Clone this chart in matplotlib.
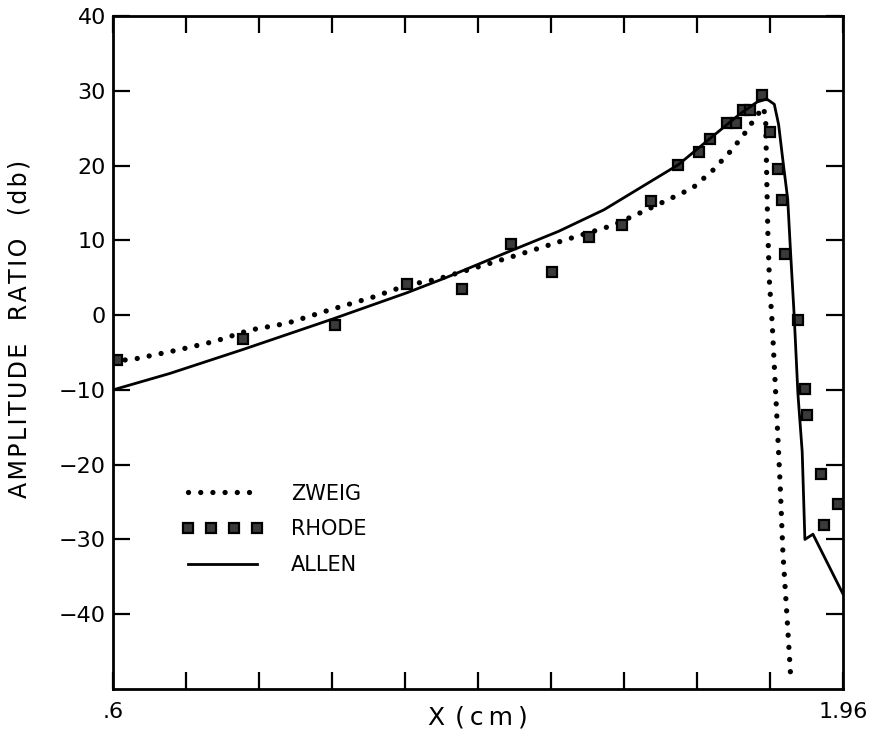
import matplotlib
matplotlib.use("Agg")
import matplotlib.pyplot as plt

# ---------------- data ----------------
zweig_x = [0.600, 0.645, 0.725, 0.790, 0.855, 0.924, 1.004, 1.084, 1.148, 1.204,
           1.278, 1.352, 1.440, 1.531, 1.595, 1.680, 1.718, 1.749, 1.774, 1.792,
           1.805, 1.812, 1.816, 1.818, 1.820, 1.823, 1.828, 1.837, 1.843, 1.848,
           1.856, 1.863]
zweig_y = [-6.2, -5.8, -4.6, -3.5, -2.0, -1.1, 0.7, 2.4, 4.0, 4.8,
           6.4, 8.0, 10.0, 12.0, 14.1, 17.0, 19.4, 21.8, 24.0, 25.9,
           27.2, 27.8, 26.0, 18.0, 11.0, 4.4, -1.0, -13.9, -22.8, -31.7,
           -40.7, -48.9]

rhode_x = [0.607, 0.842, 1.014, 1.148, 1.250, 1.341, 1.418, 1.487, 1.548, 1.602,
           1.653, 1.692, 1.712, 1.744, 1.761, 1.774, 1.787, 1.809, 1.824, 1.839,
           1.846, 1.852, 1.876, 1.889, 1.893, 1.919, 1.951, 1.925]
rhode_y = [-6.0, -3.2, -1.3, 4.1, 3.5, 9.5, 5.8, 10.4, 12.0, 15.3,
           20.1, 21.8, 23.6, 25.7, 25.7, 27.4, 27.4, 29.5, 24.5, 19.5,
           15.4, 8.2, -0.7, -9.9, -13.3, -21.3, -25.3, -28.1]

allen_x = [0.600, 0.706, 0.842, 1.010, 1.148, 1.220, 1.341, 1.430, 1.515, 1.600,
           1.653, 1.712, 1.768, 1.800, 1.818, 1.832, 1.840, 1.849, 1.857, 1.862,
           1.869, 1.876, 1.884, 1.889, 1.904, 1.960]
allen_y = [-10.0, -7.8, -4.6, -0.5, 3.0, 5.0, 8.6, 11.2, 14.1, 17.8,
           20.1, 23.6, 26.9, 28.5, 28.9, 28.2, 25.5, 20.1, 15.5, 8.8,
           0.0, -10.5, -18.3, -30.0, -29.3, -37.3]

xticks = [0.6 + 0.136 * k for k in range(11)]
xticklabels = [".6"] + [""] * 9 + ["1.96"]
yticks = [40, 30, 20, 10, 0, -10, -20, -30, -40]
yticklabels = ["40", "30", "20", "10", "0", "\u221210", "\u221220", "\u221230", "\u221240"]

# ---------------- figure ----------------
plt.rcParams["font.family"] = ["DejaVu Sans"]
fig = plt.figure(figsize=(8.75, 7.42), dpi=100)
ax = fig.add_axes([113 / 875, 53 / 742, 730 / 875, 673 / 742])

ax.plot(zweig_x, zweig_y, color="black", lw=3.8, linestyle=(0, (0.01, 2.3)),
        dash_capstyle="round", label="ZWEIG")
ax.plot(rhode_x, rhode_y, linestyle="none", marker="s", markersize=7.5,
        markerfacecolor="#3a3a3a", markeredgecolor="black", markeredgewidth=1.6,
        label="RHODE")
ax.plot(allen_x, allen_y, color="black", lw=2.0, label="ALLEN")

ax.set_xlim(0.6, 1.96)
ax.set_ylim(-50, 40)

ax.set_xticks(xticks)
ax.set_xticklabels(xticklabels)
ax.set_yticks(yticks)
ax.set_yticklabels(yticklabels)

for s in ax.spines.values():
    s.set_linewidth(2.0)
ax.tick_params(axis="both", which="major", direction="in", length=12, width=1.6,
               top=True, right=True, labelsize=16, pad=5)
ax.tick_params(axis="x", pad=9)

hair = "\u200a"
thin = "\u2009"
ylab = "   ".join(hair.join(w) for w in ["AMPLITUDE", "RATIO", "(db)"])
ax.set_ylabel(ylab, fontsize=17)
ax.yaxis.set_label_coords(-0.112, 0.535)
ax.set_xlabel("X" + thin + thin + "(" + thin + "c" + thin + "m" + thin + ")", fontsize=18)
ax.xaxis.set_label_coords(0.5, -0.025)

leg = ax.legend(loc="upper left", bbox_to_anchor=(0.094, 0.305), frameon=False,
                fontsize=15, handlelength=3.9, handletextpad=1.35,
                labelspacing=0.75, numpoints=4, borderpad=0, borderaxespad=0)

fig.savefig("out.png", dpi=100)
